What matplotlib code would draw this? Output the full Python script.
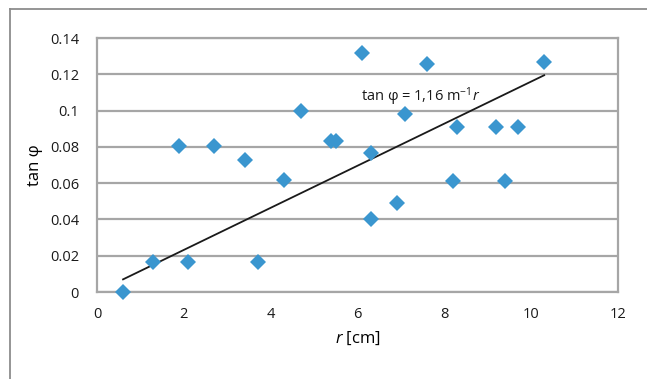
import matplotlib.pyplot as plt
from matplotlib.lines import Line2D

plt.rcParams['font.family'] = ['Open Sans', 'DejaVu Sans']
plt.rcParams['font.size'] = 10
plt.rcParams['mathtext.fontset'] = 'custom'
plt.rcParams['mathtext.rm'] = 'Open Sans'
plt.rcParams['mathtext.it'] = 'Open Sans:italic'

# measured points: r [cm] vs tan phi
r_cm = [0.6, 1.3, 1.9, 2.1, 2.7, 3.4, 3.7, 4.3, 4.7, 5.4, 5.5, 6.1,
        6.3, 6.3, 6.9, 7.1, 7.6, 8.2, 8.3, 9.2, 9.4, 9.7, 10.3]
tan_phi = [0.0, 0.0165, 0.0805, 0.0165, 0.0805, 0.0725, 0.0165, 0.062, 0.0998,
           0.083, 0.083, 0.1315, 0.0766, 0.040, 0.049, 0.098, 0.1255, 0.061,
           0.091, 0.091, 0.061, 0.091, 0.127]

# fitted line: tan phi = 1.16 m^-1 * r  (0.0116 per cm)
slope = 0.0116
fit_x = [0.6, 10.3]
fit_y = [slope * v for v in fit_x]

xticks = [0, 2, 4, 6, 8, 10, 12]
yticks = [0, 0.02, 0.04, 0.06, 0.08, 0.1, 0.12, 0.14]
ytick_labels = ['0', '0.02', '0.04', '0.06', '0.08', '0.1', '0.12', '0.14']

fig = plt.figure(figsize=(6.47, 3.79), dpi=100)
ax = fig.add_axes([97/647, 1 - 292/379, (618 - 97)/647, (292 - 38)/379])

grid_col = '#a6a6a6'
for y in yticks:
    ax.axhline(y, color=grid_col, lw=1.6, zorder=1)

ax.plot(fit_x, fit_y, color='#1a1a1a', lw=1.3, zorder=2)
ax.plot(r_cm, tan_phi, linestyle='none', marker='D', markersize=8.5,
        color='#3a96cf', markeredgewidth=0, zorder=3, clip_on=False)

ax.text(6.08, 0.1078, r'tan φ = 1,16 m$^{-1}$$\it{r}$', fontsize=10.5,
        va='center', ha='left', color='#1a1a1a')

ax.set_xlim(0, 12)
ax.set_ylim(0, 0.14)
ax.set_xticks(xticks)
ax.set_yticks(yticks)
ax.set_yticklabels(ytick_labels)
ax.tick_params(length=0, labelsize=10.5, colors='#1a1a1a')
ax.tick_params(axis='x', pad=11)
ax.tick_params(axis='y', pad=13)
for s in ax.spines.values():
    s.set_color(grid_col)
    s.set_linewidth(1.6)

ax.set_xlabel(r'$\it{r}$ [cm]', fontsize=12, labelpad=5)
ax.set_ylabel('tan φ', fontsize=12, labelpad=5)

# outer chart frame
fig.add_artist(Line2D([10/647, 1], [1 - 9/379, 1 - 9/379], color='#8c8c8c', lw=1.3))
fig.add_artist(Line2D([10/647, 10/647], [0, 1 - 9/379], color='#8c8c8c', lw=1.3))

fig.savefig('out.png', dpi=100)
